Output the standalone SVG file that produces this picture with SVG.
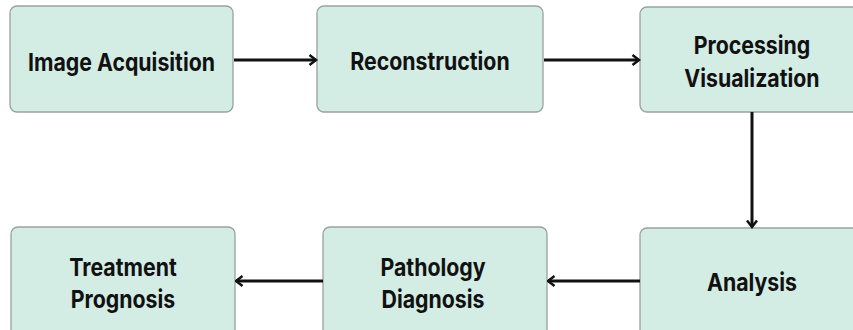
<svg xmlns="http://www.w3.org/2000/svg" width="853" height="330" viewBox="0 0 853 330">
<defs>
<style>
.box{fill:#d3ece4;stroke:#9aa29f;stroke-width:1.3}
.t{font-family:Inter,"Liberation Sans",sans-serif;font-weight:700;font-size:24.5px;fill:#111;text-anchor:middle}
.c{stroke:#111;stroke-width:3;fill:none}
</style>
<marker id="ah" viewBox="0 0 12 12" refX="10.5" refY="6" markerWidth="12" markerHeight="12" markerUnits="userSpaceOnUse" orient="auto">
<path d="M4,1 L10.5,6 L4,11" fill="none" stroke="#111" stroke-width="2.5"/>
</marker>
</defs>
<rect width="853" height="330" fill="#fff"/>
<g id="n1"><rect class="box" x="10" y="6" width="223" height="106" rx="7"/><text class="t" x="121.5" y="71" transform="translate(121.5 0) scale(0.87 1) translate(-121.5 0)">Image Acquisition</text></g>
<g id="n2"><rect class="box" x="317" y="6" width="226" height="106" rx="7"/><text class="t" x="430" y="70" transform="translate(430 0) scale(0.87 1) translate(-430 0)">Reconstruction</text></g>
<g id="n3"><rect class="box" x="640" y="7" width="225" height="105" rx="7"/><text class="t" transform="translate(752 0) scale(0.87 1) translate(-752 0)"><tspan x="752" y="54">Processing</tspan><tspan x="752" y="87">Visualization</tspan></text></g>
<g id="n4"><rect class="box" x="640" y="228" width="225" height="110" rx="7"/><text class="t" x="752" y="291" transform="translate(752 0) scale(0.87 1) translate(-752 0)">Analysis</text></g>
<g id="n5"><rect class="box" x="323" y="227" width="224" height="111" rx="7"/><text class="t" transform="translate(433 0) scale(0.87 1) translate(-433 0)"><tspan x="433" y="276">Pathology</tspan><tspan x="433" y="308">Diagnosis</tspan></text></g>
<g id="n6"><rect class="box" x="11" y="227" width="224" height="111" rx="7"/><text class="t" transform="translate(123 0) scale(0.87 1) translate(-123 0)"><tspan x="123" y="276">Treatment</tspan><tspan x="123" y="308">Prognosis</tspan></text></g>
<g id="connectors">
<line class="c" x1="234" y1="60" x2="316" y2="60" marker-end="url(#ah)"/>
<line class="c" x1="544" y1="60" x2="639" y2="60" marker-end="url(#ah)"/>
<line class="c" x1="752" y1="112" x2="752" y2="227" marker-end="url(#ah)"/>
<line class="c" x1="640" y1="281" x2="548" y2="281" marker-end="url(#ah)"/>
<line class="c" x1="323" y1="281" x2="236" y2="281" marker-end="url(#ah)"/>
</g>
</svg>
